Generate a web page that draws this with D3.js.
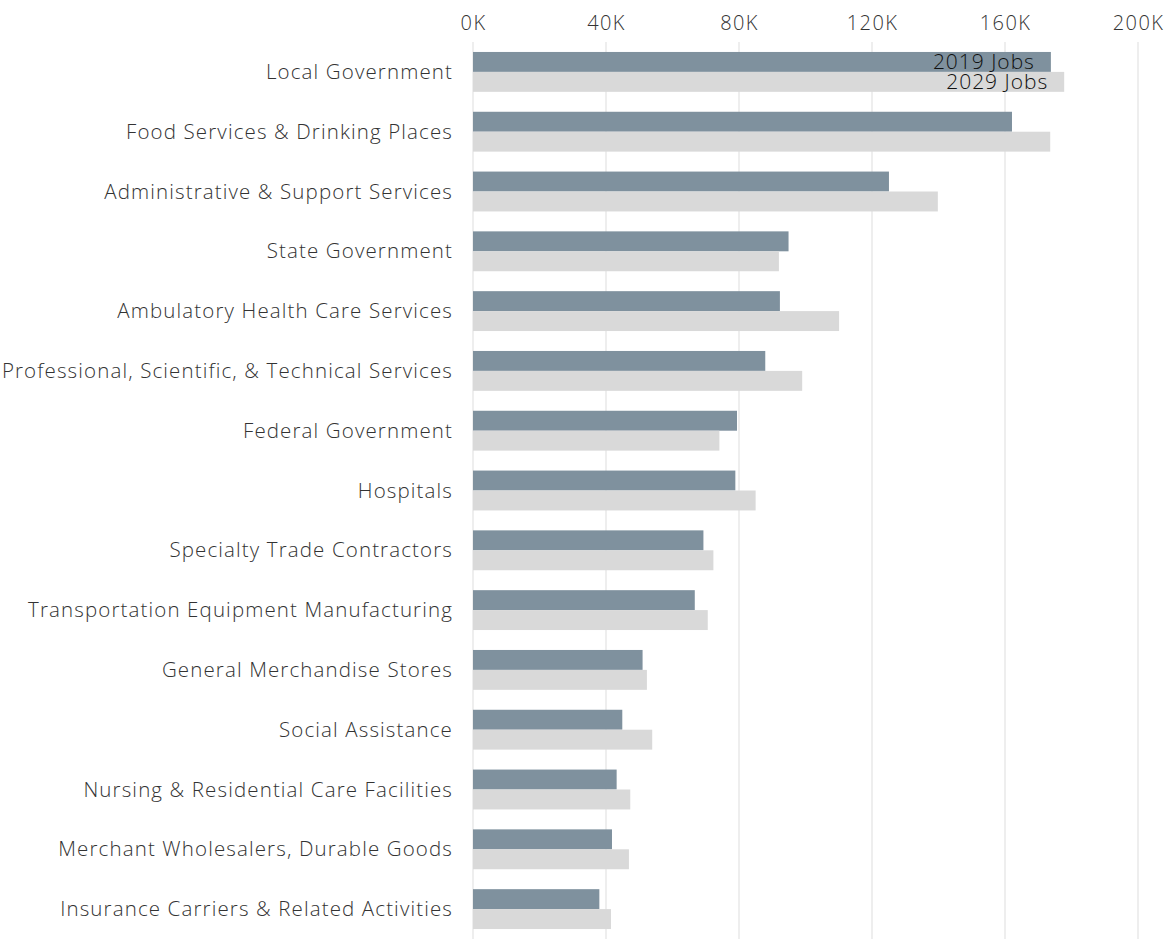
<!DOCTYPE html>
<html><head><meta charset="utf-8">
<script src="https://cdn.jsdelivr.net/npm/d3@7"></script>
<style>
html,body{margin:0;padding:0;background:#fff;}
svg{display:block;}
text{font-family:"Open Sans",Lato,sans-serif;}
</style></head>
<body><svg id="c" width="1165" height="939"></svg>
<script>
const categories = ["Local Government","Food Services & Drinking Places","Administrative & Support Services","State Government","Ambulatory Health Care Services","Professional, Scientific, & Technical Services","Federal Government","Hospitals","Specialty Trade Contractors","Transportation Equipment Manufacturing","General Merchandise Stores","Social Assistance","Nursing & Residential Care Facilities","Merchant Wholesalers, Durable Goods","Insurance Carriers & Related Activities"];
const jobs2019 = [173.8,162.1,125.1,94.9,92.3,87.9,79.4,78.9,69.3,66.7,51.0,44.9,43.2,41.8,38.0];
const jobs2029 = [177.8,173.6,139.8,92.0,110.1,99.0,74.1,85.0,72.3,70.6,52.3,53.9,47.3,46.9,41.5];
const seriesNames = ["2019 Jobs","2029 Jobs"];
const tickValues = [0,40,80,120,160,200];

const svg = d3.select("#c");
const x = d3.scaleLinear().domain([0,200]).range([473,1138]);
const y = d3.scaleBand().domain(categories).range([42,939]).paddingInner(1/3).paddingOuter(1/6);
const sub = d3.scaleBand().domain(seriesNames).range([0,y.bandwidth()]);
const colors = {"2019 Jobs":"#7f919e","2029 Jobs":"#d9d9d9"};

// fit letter-spacing so a text reaches a target width
function fitSpacing(sel, target){
  const node = sel.node();
  const w = node.getComputedTextLength();
  const n = node.textContent.length;
  return (target - w) / (n - 1);
}

// gridlines
svg.append("g").selectAll("line").data(tickValues).join("line")
  .attr("x1",d=>x(d)).attr("x2",d=>x(d)).attr("y1",42).attr("y2",939)
  .attr("stroke","#eeeeee").attr("stroke-width",2);

// top axis
const ax = svg.append("g").attr("transform","translate(0,23)")
  .call(d3.axisTop(x).tickValues(tickValues).tickFormat(d=>d+"K").tickSize(0).tickPadding(0));
ax.select(".domain").remove();
ax.selectAll("text").attr("font-size",20).attr("fill","#333").attr("font-weight",300).attr("dy","0.35em");
const tLast = ax.selectAll("text").filter(d=>d===200);
const tsp = fitSpacing(tLast, 50);
ax.selectAll("text").attr("letter-spacing", tsp);

const rows = categories.map((c,i)=>({c, vals:[{s:"2019 Jobs",v:jobs2019[i]},{s:"2029 Jobs",v:jobs2029[i]}]}));
const g = svg.append("g").selectAll("g").data(rows).join("g")
  .attr("transform",d=>`translate(0,${y(d.c)})`);
g.selectAll("rect").data(d=>d.vals).join("rect")
  .attr("x",x(0)).attr("y",d=>sub(d.s)).attr("height",sub.bandwidth())
  .attr("width",d=>x(d.v)-x(0)).attr("fill",d=>colors[d.s]);

// category labels
const labs = svg.append("g").selectAll("text").data(categories).join("text")
  .attr("x",453).attr("y",d=>y(d)+y.bandwidth()/2).attr("dy","0.35em")
  .attr("text-anchor","end").attr("font-size",20.5).attr("font-weight",300).attr("fill","#333")
  .text(d=>d);
const longest = labs.filter(d=>d.startsWith("Professional"));
const lsp = fitSpacing(longest, 450);
labs.attr("letter-spacing", lsp);

// in-bar series labels on first row
const first = rows[0];
const sl = svg.append("g").selectAll("text").data(first.vals).join("text")
  .attr("x",d=>x(d.v)-16).attr("y",d=>y(first.c)+sub(d.s)+sub.bandwidth()-3)
  .attr("text-anchor","end").attr("font-size",21).attr("font-weight",300).attr("fill","#111")
  .text(d=>d.s);
const ssp = fitSpacing(sl.filter((d,i)=>i===0), 101);
sl.attr("letter-spacing", ssp);
</script></body></html>
